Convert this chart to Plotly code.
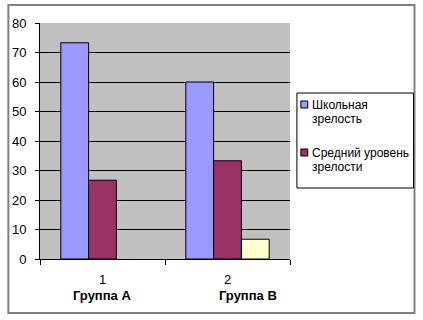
import plotly.graph_objects as go

categories = ["1", "2"]
group_labels = ["Группа А", "Группа В"]
school = [73.3, 60.0]
average = [26.7, 33.3]
third = [None, 6.7]
legend_lines = [["Школьная", "зрелость"], ["Средний уровень", "зрелости"]]
y_ticks = [0, 10, 20, 30, 40, 50, 60, 70, 80]

W, H = 423, 320
L, R, T, B = 37, 290, 23, 259


def px(x):
    return (x - L) / (R - L)


def py(y):
    return (B - y) / (B - T)


FONT = "Liberation Sans, Arial, sans-serif"
line = dict(color="black", width=1)

fig = go.Figure()
fig.add_trace(go.Bar(x=categories, y=school, name="Школьная зрелость",
                     marker=dict(color="#9999FF", line=line), showlegend=False))
fig.add_trace(go.Bar(x=categories, y=average, name="Средний уровень зрелости",
                     marker=dict(color="#993366", line=line), showlegend=False))
fig.add_trace(go.Bar(x=categories, y=third, name="",
                     marker=dict(color="#FFFFCC", line=line), showlegend=False))

fig.update_layout(
    width=W, height=H,
    margin=dict(l=L, r=W - R, t=T, b=H - B, pad=0),
    paper_bgcolor="white", plot_bgcolor="#C0C0C0",
    barmode="group", bargap=0.333, bargroupgap=0,
    font=dict(family=FONT, size=13, color="black"),
    xaxis=dict(type="category", tickson="boundaries", ticks="outside", ticklen=5,
               tickcolor="black", showline=True, linecolor="black", linewidth=1,
               showgrid=False, range=[-0.5, 1.5], tickfont=dict(size=13),
               ticklabelstandoff=8, fixedrange=True),
    yaxis=dict(range=[0, 80], tickvals=y_ticks, ticks="outside", ticklen=4,
               tickcolor="black", showline=True, linecolor="black", linewidth=1,
               showgrid=True, gridcolor="black", gridwidth=1, zeroline=False,
               tickfont=dict(size=13), ticklabelstandoff=6, fixedrange=True),
)

shapes = []
annotations = []
# outer border
shapes.append(dict(type="rect", xref="paper", yref="paper",
                   x0=px(5), x1=px(416), y0=py(313), y1=py(5),
                   line=dict(color="#808080", width=2), layer="below"))
# legend box
shapes.append(dict(type="rect", xref="paper", yref="paper",
                   x0=px(297), x1=px(415), y0=py(188), y1=py(93),
                   line=dict(color="black", width=1), fillcolor="white"))
colors = ["#9999FF", "#993366"]
tops = [105, 153]
for i, (lines, c, ty) in enumerate(zip(legend_lines, colors, tops)):
    shapes.append(dict(type="rect", xref="paper", yref="paper",
                       x0=px(301), x1=px(308), y0=py(ty + 3), y1=py(ty - 4),
                       line=dict(color="black", width=1), fillcolor=c))
    for j, t in enumerate(lines):
        annotations.append(dict(text=t, xref="paper", yref="paper",
                                x=px(310), y=py(ty + 14 * j), xanchor="left",
                                yanchor="middle", showarrow=False,
                                font=dict(size=12, family=FONT, color="black")))
# group labels
for cx, t in zip([100, 248], group_labels):
    annotations.append(dict(text="<b>" + t + "</b>", xref="paper", yref="paper",
                            x=px(cx), y=py(295), xanchor="center", yanchor="middle",
                            showarrow=False,
                            font=dict(size=13, family=FONT, color="black")))

fig.update_layout(shapes=shapes, annotations=annotations)
fig.write_html("out.html")
